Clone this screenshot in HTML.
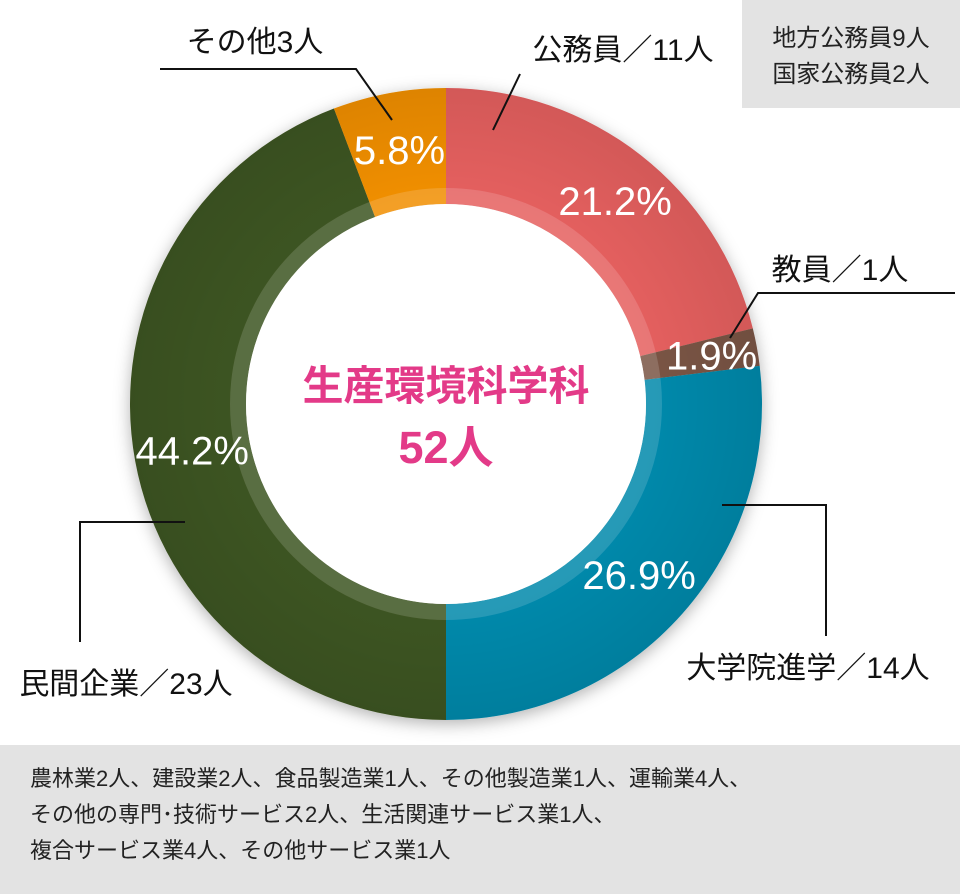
<!DOCTYPE html>
<html><head><meta charset="utf-8"><style>
body{margin:0;width:960px;height:894px;background:#fff;overflow:hidden;font-family:"Liberation Sans","Noto Sans CJK JP",sans-serif;}
</style></head><body>
<svg width="960" height="894" style="position:absolute;left:0;top:0">
<defs>
<filter id="sh" x="-20%" y="-20%" width="140%" height="140%"><feDropShadow dx="0" dy="4" stdDeviation="8" flood-color="#000" flood-opacity="0.3"/></filter>
<radialGradient id="shade" cx="0.5" cy="0.5" r="0.5"><stop offset="0.65" stop-color="#000" stop-opacity="0"/><stop offset="1" stop-color="#000" stop-opacity="0.08"/></radialGradient>
</defs>
<rect x="742" y="0" width="218" height="108" fill="#e3e3e3"/>
<text x="851" y="46" font-size="24" text-anchor="middle" fill="#222">地方公務員9人</text>
<text x="851" y="82" font-size="24" text-anchor="middle" fill="#222">国家公務員2人</text>
<rect x="0" y="745" width="960" height="149" fill="#e3e3e3"/>
<text x="30" y="786" font-size="22" fill="#222">農林業2人、建設業2人、食品製造業1人、その他製造業1人、運輸業4人、</text>
<text x="30" y="822" font-size="22" fill="#222">その他の専門･技術サービス2人、生活関連サービス業1人、</text>
<text x="30" y="858" font-size="22" fill="#222">複合サービス業4人、その他サービス業1人</text>
<g id="slices" filter="url(#sh)"></g>
<circle cx="446" cy="404" r="316" fill="url(#shade)"/>
<circle cx="446" cy="404" r="208" fill="none" stroke="#fff" stroke-opacity="0.15" stroke-width="16"/>
<circle cx="446" cy="404" r="200" fill="#fff"/>
<g id="pct"></g>
<g stroke="#111" stroke-width="2" fill="none">
<polyline points="160,69 356,69 392,120"/>
<polyline points="520,74 493,130"/>
<polyline points="955,293 758,293 730,338"/>
<polyline points="722,505 826,505 826,636"/>
<polyline points="185,522 80,522 80,642"/>
</g>
<g font-size="30" fill="#111">
<text x="255" y="52" text-anchor="middle">その他3人</text>
<text x="623" y="60" text-anchor="middle">公務員／11人</text>
<text x="840" y="280" text-anchor="middle">教員／1人</text>
<text x="808" y="678" text-anchor="middle">大学院進学／14人</text>
<text x="126" y="694" text-anchor="middle">民間企業／23人</text>
</g>
<text x="446" y="400" font-size="41" font-weight="bold" fill="#e33a88" text-anchor="middle">生産環境科学科</text>
<text x="446" y="463" font-size="45" font-weight="bold" fill="#e33a88" text-anchor="middle">52人</text>
</svg>
<script>
const categories=["公務員","教員","大学院進学","民間企業","その他"];
const values=[11,1,14,23,3];
const percentLabels=["21.2%","1.9%","26.9%","44.2%","5.8%"];
const colors=["#e5605f","#7a5545","#0089ab","#3e5420","#f18f00"];
const cx=446,cy=404,R=316,r0=200;
const total=values.reduce((a,b)=>a+b,0);
const ns="http://www.w3.org/2000/svg";
const g=document.getElementById('slices'),pg=document.getElementById('pct');
function pt(a,rad){return [cx+rad*Math.sin(a),cy-rad*Math.cos(a)];}
let acc=0;
values.forEach((v,i)=>{
 const a0=acc/total*2*Math.PI;acc+=v;const a1=acc/total*2*Math.PI;
 const lg=(a1-a0)>Math.PI?1:0;
 const p0=pt(a0,R),p1=pt(a1,R),q1=pt(a1,r0),q0=pt(a0,r0);
 const p=document.createElementNS(ns,'path');
 p.setAttribute('d',`M${p0}A${R},${R} 0 ${lg} 1 ${p1}L${q1}A${r0},${r0} 0 ${lg} 0 ${q0}Z`);
 p.setAttribute('fill',colors[i]);
 
 
 g.appendChild(p);
 const am=(a0+a1)/2;const lp=pt(am,i==1?270:258);
 const t=document.createElementNS(ns,'text');
 t.setAttribute('x',lp[0]+(i==0?10:0));t.setAttribute('y',lp[1]+14);
 t.setAttribute('text-anchor','middle');t.setAttribute('font-size','40');t.setAttribute('fill','#fff');
 t.textContent=percentLabels[i];
 
 
 pg.appendChild(t);
});
</script>
</body></html>
